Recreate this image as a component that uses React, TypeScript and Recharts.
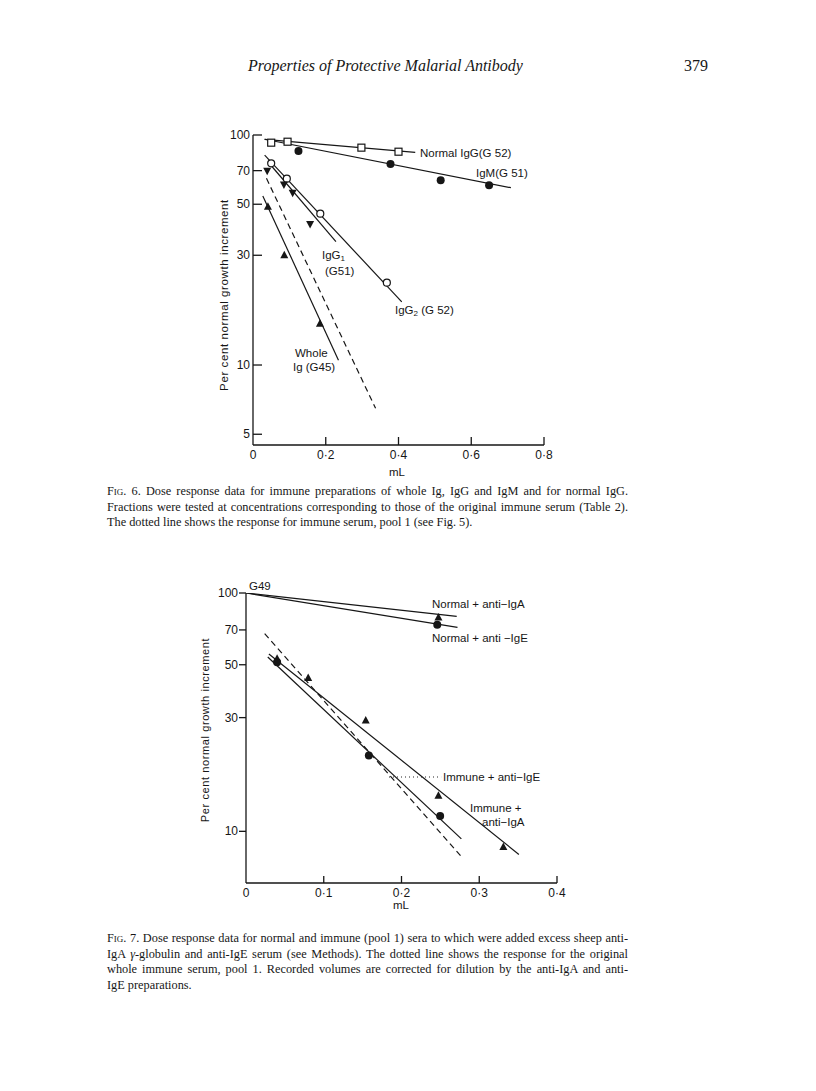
import React from "react";
import { ComposedChart, Line, Scatter, XAxis, YAxis } from "recharts";

const INK = "#161616";
const LETTER = "'Liberation Sans', Arial, sans-serif";
const SERIF = "'Liberation Serif', 'Times New Roman', serif";

// ---- Fig. 6 data (x = mL, y = per cent normal growth increment) ----
const fig6XTicks = [0, 0.2, 0.4, 0.6, 0.8];
const fig6YTicks = [5, 10, 30, 50, 70, 100];

const normalIgGX = [0.05, 0.095, 0.298, 0.4];
const normalIgGY = [92.6, 93.5, 88.1, 84.6];
const normalIgGFitX = [0.032, 0.446];
const normalIgGFitY = [95.8, 84.0];

const igmX = [0.125, 0.378, 0.516, 0.649];
const igmY = [85.2, 74.8, 63.5, 60.4];
const igmFitX = [0.032, 0.709];
const igmFitY = [95.8, 59.0];

const igg2X = [0.05, 0.093, 0.185, 0.368];
const igg2Y = [75.3, 64.6, 45.5, 22.8];
const igg2FitX = [0.032, 0.409];
const igg2FitY = [81.8, 18.8];

const igg1X = [0.039, 0.085, 0.109, 0.157];
const igg1Y = [70.0, 61.0, 56.1, 41.0];
const igg1FitX = [0.041, 0.228];
const igg1FitY = [76.5, 34.4];

const wholeIgX = [0.041, 0.086, 0.184];
const wholeIgY = [48.8, 30.0, 15.1];
const wholeIgFitX = [0.027, 0.235];
const wholeIgFitY = [54.3, 10.5];

const pool1FitX = [0.037, 0.337];
const pool1FitY = [64.8, 6.48];

// ---- Fig. 7 data ----
const fig7XTicks = [0, 0.1, 0.2, 0.3, 0.4];
const fig7YTicks = [10, 30, 50, 70, 100];

const normAntiIgAX = [0.2475];
const normAntiIgAY = [79.0];
const normAntiIgAFitX = [0, 0.271];
const normAntiIgAFitY = [100, 79.8];

const normAntiIgEX = [0.246];
const normAntiIgEY = [73.6];
const normAntiIgEFitX = [0, 0.272];
const normAntiIgEFitY = [100, 71.7];

const immAntiIgAX = [0.04, 0.08, 0.154, 0.2475, 0.331];
const immAntiIgAY = [53.0, 44.0, 29.2, 14.1, 8.6];
const immAntiIgAFitX = [0.0294, 0.351];
const immAntiIgAFitY = [55.5, 8.0];

const immAntiIgEX = [0.04, 0.158, 0.2497];
const immAntiIgEY = [51.2, 20.8, 11.6];
const immAntiIgEFitX = [0.028, 0.277];
const immAntiIgEFitY = [53.9, 9.3];

const wholeSerumFitX = [0.024, 0.279];
const wholeSerumFitY = [67.5, 7.7];

// pointer from the label "Immune + anti-IgE" back to its line
const pointerX = [0.184, 0.251];
const pointerY = [16.9, 16.9];

const zip = (xs: number[], ys: number[]) => xs.map((x, i) => ({ x, y: ys[i] }));

const fmtX = (v: number) => (v === 0 ? "0" : v.toFixed(1).replace(".", "·"));

function Marker({ cx, cy, kind }: any) {
  if (cx == null || cy == null) return null;
  switch (kind) {
    case "square":
      return <rect x={cx - 3.5} y={cy - 3.5} width={7} height={7} fill="#fff" stroke={INK} strokeWidth={1.2} />;
    case "ring":
      return <circle cx={cx} cy={cy} r={3.5} fill="#fff" stroke={INK} strokeWidth={1.2} />;
    case "tri":
      return <path d={`M${cx},${cy - 4.5}L${cx + 4},${cy + 3}L${cx - 4},${cy + 3}Z`} fill={INK} />;
    case "vtri":
      return <path d={`M${cx},${cy + 4.5}L${cx + 4},${cy - 3}L${cx - 4},${cy - 3}Z`} fill={INK} />;
    default:
      return <circle cx={cx} cy={cy} r={4} fill={INK} />;
  }
}

const shape = (kind: string) => (p: any) => <Marker {...p} kind={kind} />;

const XTick = (len: number) => ({ x, y, payload }: any) => (
  <g>
    {payload.value !== 0 && <line x1={x} x2={x} y1={y} y2={y - len} stroke={INK} strokeWidth={1.3} />}
    <text x={x} y={y + 14} textAnchor="middle" fontSize={12} fontFamily={LETTER} fill={INK}>
      {fmtX(payload.value)}
    </text>
  </g>
);

// inward = tick drawn into the plot, label to the left of the axis
const YTick = (len: number, inward: boolean) => ({ x, y, payload }: any) => (
  <g>
    <line x1={x} x2={inward ? x + len : x - len} y1={y} y2={y} stroke={INK} strokeWidth={1.3} />
    <text
      x={inward ? x - 3 : x - len - 1}
      y={y + 4}
      textAnchor="end"
      fontSize={12}
      fontFamily={LETTER}
      fill={INK}
    >
      {payload.value}
    </text>
  </g>
);

const fitLine = (data: any[], dashed?: string) => (
  <Line
    data={data}
    dataKey="y"
    type="linear"
    stroke={INK}
    strokeWidth={1.2}
    strokeDasharray={dashed}
    dot={false}
    activeDot={false}
    isAnimationActive={false}
  />
);

const points = (data: any[], kind: string) => (
  <Scatter data={data} dataKey="y" shape={shape(kind)} isAnimationActive={false} />
);

function Fig6() {
  return (
    <div style={{ position: "absolute", left: 173, top: 120 }}>
      <ComposedChart width={400} height={360} margin={{ top: 15, right: 29, bottom: 5, left: 0 }}>
        <XAxis
          dataKey="x"
          type="number"
          domain={[0, 0.8]}
          ticks={fig6XTicks}
          interval={0}
          allowDataOverflow
          height={30}
          tickSize={0}
          tickMargin={0}
          tick={XTick(8)}
          axisLine={{ stroke: INK, strokeWidth: 1.3 }}
        />
        <YAxis
          type="number"
          scale="log"
          domain={[4.49, 100]}
          ticks={fig6YTicks}
          interval={0}
          allowDataOverflow
          width={80}
          tickSize={0}
          tickMargin={0}
          tick={YTick(9, true)}
          axisLine={{ stroke: INK, strokeWidth: 1.3 }}
        />
        {fitLine(zip(normalIgGFitX, normalIgGFitY))}
        {fitLine(zip(igmFitX, igmFitY))}
        {fitLine(zip(igg2FitX, igg2FitY))}
        {fitLine(zip(igg1FitX, igg1FitY))}
        {fitLine(zip(wholeIgFitX, wholeIgFitY))}
        {fitLine(zip(pool1FitX, pool1FitY), "6 4")}
        {points(zip(normalIgGX, normalIgGY), "square")}
        {points(zip(igmX, igmY), "dot")}
        {points(zip(igg2X, igg2Y), "ring")}
        {points(zip(igg1X, igg1Y), "vtri")}
        {points(zip(wholeIgX, wholeIgY), "tri")}
      </ComposedChart>
    </div>
  );
}

function Fig7() {
  return (
    <div style={{ position: "absolute", left: 166, top: 578 }}>
      <ComposedChart width={420} height={340} margin={{ top: 15, right: 29, bottom: 5, left: 0 }}>
        <XAxis
          dataKey="x"
          type="number"
          domain={[0, 0.4]}
          ticks={fig7XTicks}
          interval={0}
          allowDataOverflow
          height={30}
          tickSize={0}
          tickMargin={0}
          tick={XTick(7)}
          axisLine={{ stroke: INK, strokeWidth: 1.3 }}
        />
        <YAxis
          type="number"
          scale="log"
          domain={[6.07, 100]}
          ticks={fig7YTicks}
          interval={0}
          allowDataOverflow
          width={80}
          tickSize={0}
          tickMargin={0}
          tick={YTick(7, false)}
          axisLine={{ stroke: INK, strokeWidth: 1.3 }}
        />
        {fitLine(zip(normAntiIgAFitX, normAntiIgAFitY))}
        {fitLine(zip(normAntiIgEFitX, normAntiIgEFitY))}
        {fitLine(zip(immAntiIgAFitX, immAntiIgAFitY))}
        {fitLine(zip(immAntiIgEFitX, immAntiIgEFitY))}
        {fitLine(zip(wholeSerumFitX, wholeSerumFitY), "6 4")}
        {fitLine(zip(pointerX, pointerY), "1 3")}
        {points(zip(normAntiIgAX, normAntiIgAY), "tri")}
        {points(zip(normAntiIgEX, normAntiIgEY), "dot")}
        {points(zip(immAntiIgAX, immAntiIgAY), "tri")}
        {points(zip(immAntiIgEX, immAntiIgEY), "dot")}
      </ComposedChart>
    </div>
  );
}

const Lab = ({ x, y, children, size = 11.5 }: any) => (
  <text x={x} y={y} fontSize={size} fontFamily={LETTER} fill={INK}>
    {children}
  </text>
);

function Annotations() {
  return (
    <svg width={816} height={1091} style={{ position: "absolute", left: 0, top: 0, pointerEvents: "none" }}>
      {/* Fig. 6 */}
      <Lab x={420} y={157}>Normal IgG(G 52)</Lab>
      <Lab x={476} y={177}>IgM(G 51)</Lab>
      <Lab x={322} y={259}>
        IgG<tspan fontSize={8} dy={2}>1</tspan>
      </Lab>
      <Lab x={325} y={275}>(G51)</Lab>
      <Lab x={395} y={314}>
        IgG<tspan fontSize={8} dy={2}>2</tspan>
        <tspan dy={-2}> (G 52)</tspan>
      </Lab>
      <Lab x={295} y={357}>Whole</Lab>
      <Lab x={293} y={371}>Ig (G45)</Lab>
      <text x={225} y={295} transform="rotate(-90 225 295)" textAnchor="middle" dominantBaseline="middle" fontSize={11.5} letterSpacing={0.6} fontFamily={LETTER} fill={INK}>
        Per cent normal growth increment
      </text>
      <text x={397} y={476} textAnchor="middle" fontSize={11.5} fontFamily={LETTER} fill={INK}>mL</text>

      {/* Fig. 7 */}
      <Lab x={249} y={590}>G49</Lab>
      <Lab x={432} y={608}>Normal + anti−IgA</Lab>
      <Lab x={432} y={642}>Normal + anti −IgE</Lab>
      <Lab x={443} y={781}>Immune + anti−IgE</Lab>
      <Lab x={470} y={812}>Immune +</Lab>
      <Lab x={482} y={826}>anti−IgA</Lab>
      <text x={206} y={730} transform="rotate(-90 206 730)" textAnchor="middle" dominantBaseline="middle" fontSize={11} letterSpacing={0.6} fontFamily={LETTER} fill={INK}>
        Per cent normal growth increment
      </text>
      <text x={401} y={909} textAnchor="middle" fontSize={11.5} fontFamily={LETTER} fill={INK}>mL</text>
    </svg>
  );
}

const capLine = (top: number, content: React.ReactNode, full = true) => (
  <div
    style={{
      position: "absolute",
      left: 107,
      top,
      width: 521,
      textAlign: "justify",
      textAlignLast: full ? "justify" : "left",
      whiteSpace: "nowrap",
      fontFamily: SERIF,
      fontSize: 12.3,
      lineHeight: "15px",
      color: INK,
    }}
  >
    {content}
  </div>
);

const Fig = ({ n }: { n: number }) => (
  <span>
    <span style={{ fontVariant: "small-caps" }}>Fig.</span> {n}.
  </span>
);

export default function App() {
  return (
    <div style={{ position: "absolute", left: 0, top: 0, width: 816, height: 1091, background: "#fff", overflow: "hidden" }}>
      <div style={{ position: "absolute", left: 248, top: 57, fontFamily: SERIF, fontStyle: "italic", fontSize: 16, color: INK }}>
        Properties of Protective Malarial Antibody
      </div>
      <div style={{ position: "absolute", left: 684, top: 57, fontFamily: SERIF, fontSize: 16, color: INK }}>379</div>

      <Fig6 />
      <Fig7 />
      <Annotations />

      {capLine(484, <><Fig n={6} /> Dose response data for immune preparations of whole Ig, IgG and IgM and for normal IgG.</>)}
      {capLine(499.5, <>Fractions were tested at concentrations corresponding to those of the original immune serum (Table 2).</>)}
      {capLine(515, <>The dotted line shows the response for immune serum, pool 1 (see Fig. 5).</>, false)}

      {capLine(931, <><Fig n={7} /> Dose response data for normal and immune (pool 1) sera to which were added excess sheep anti-</>)}
      {capLine(946.5, <>IgA <i>γ</i>-globulin and anti-IgE serum (see Methods). The dotted line shows the response for the original</>)}
      {capLine(962, <>whole immune serum, pool 1. Recorded volumes are corrected for dilution by the anti-IgA and anti-</>)}
      {capLine(977.5, <>IgE preparations.</>, false)}
    </div>
  );
}
